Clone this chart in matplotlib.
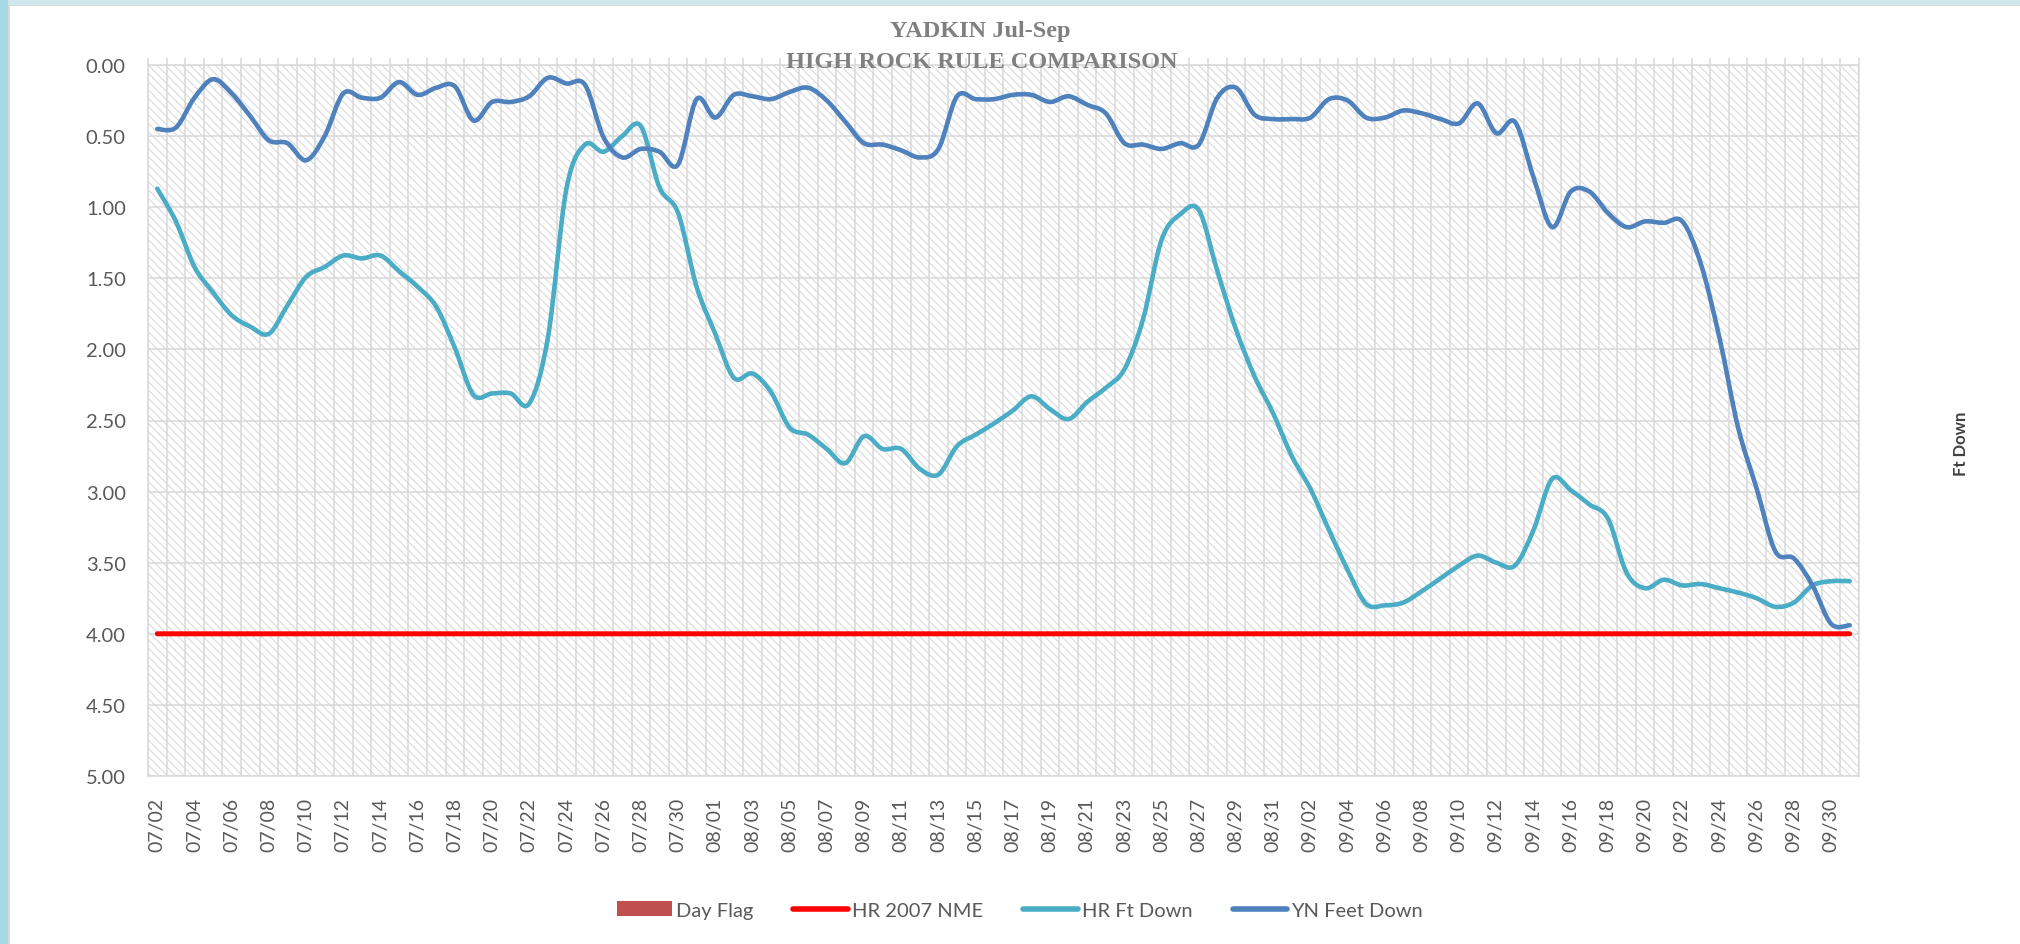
import numpy as np
import pandas as pd
import matplotlib
matplotlib.use("Agg")
from matplotlib import pyplot as plt
from matplotlib.path import Path
from matplotlib.patches import PathPatch, Rectangle, Patch
from matplotlib.lines import Line2D

plt.rcParams['font.family'] = ['Lato', 'DejaVu Sans']
plt.rcParams['hatch.linewidth'] = 0.7

# categories: one per day, 07/02 .. 10/01
days = pd.date_range("2021-07-02", "2021-10-01").strftime("%m/%d").tolist()

yn_feet_down = [0.45, 0.44, 0.23, 0.10, 0.20, 0.36, 0.53, 0.55, 0.67, 0.50,
                0.20, 0.23, 0.23, 0.12, 0.21, 0.16, 0.15, 0.39, 0.26, 0.26,
                0.22, 0.09, 0.13, 0.14, 0.51, 0.65, 0.59, 0.61, 0.70, 0.24,
                0.37, 0.21, 0.22, 0.24, 0.19, 0.16, 0.25, 0.40, 0.55, 0.56,
                0.60, 0.65, 0.59, 0.22, 0.24, 0.24, 0.21, 0.21, 0.26, 0.22,
                0.28, 0.34, 0.55, 0.56, 0.59, 0.55, 0.56, 0.23, 0.16, 0.35,
                0.38, 0.38, 0.37, 0.24, 0.25, 0.37, 0.37, 0.32, 0.34, 0.38,
                0.41, 0.27, 0.48, 0.40, 0.79, 1.14, 0.89, 0.89, 1.04, 1.14,
                1.10, 1.11, 1.10, 1.40, 1.92, 2.55, 2.98, 3.42, 3.47, 3.66,
                3.93, 3.94]

hr_ft_down = [0.87, 1.10, 1.42, 1.60, 1.76, 1.84, 1.89, 1.69, 1.49, 1.42,
              1.34, 1.36, 1.34, 1.45, 1.56, 1.70, 1.99, 2.32, 2.31, 2.31,
              2.38, 1.92, 0.87, 0.56, 0.61, 0.50, 0.43, 0.86, 1.04, 1.56,
              1.89, 2.20, 2.17, 2.30, 2.55, 2.60, 2.70, 2.80, 2.61, 2.70,
              2.70, 2.84, 2.88, 2.68, 2.60, 2.52, 2.43, 2.33, 2.42, 2.49,
              2.37, 2.27, 2.14, 1.79, 1.23, 1.05, 1.02, 1.45, 1.86, 2.19,
              2.45, 2.75, 2.98, 3.27, 3.55, 3.79, 3.80, 3.78, 3.70, 3.61,
              3.52, 3.45, 3.50, 3.52, 3.27, 2.91, 2.99, 3.09, 3.19, 3.57,
              3.68, 3.62, 3.66, 3.65, 3.68, 3.71, 3.75, 3.81, 3.78, 3.66,
              3.63, 3.63]

hr_2007_nme = [4.0] * len(days)
day_flag = [0.0] * len(days)

grey = '#d9d9d9'
txt = '#595959'


def smooth_path(xs, ys):
    # excel-like smoothed line (catmull-rom as cubic bezier)
    n = len(xs)
    verts = [(xs[0], ys[0])]
    codes = [Path.MOVETO]
    for i in range(n - 1):
        a = max(i - 1, 0)
        d = min(i + 2, n - 1)
        c1 = (xs[i] + (xs[i + 1] - xs[a]) / 6, ys[i] + (ys[i + 1] - ys[a]) / 6)
        c2 = (xs[i + 1] - (xs[d] - xs[i]) / 6, ys[i + 1] - (ys[d] - ys[i]) / 6)
        verts += [c1, c2, (xs[i + 1], ys[i + 1])]
        codes += [Path.CURVE4] * 3
    return Path(verts, codes)


fig = plt.figure(figsize=(20.2, 9.45), dpi=100)

# slide border bits
fig.add_artist(Rectangle((0, 1 - 6 / 945), 1, 6 / 945, transform=fig.transFigure,
                         facecolor='#cfe6ec', edgecolor='none', zorder=0))
fig.add_artist(Rectangle((0, 1 - 7 / 945), 1, 1.5 / 945, transform=fig.transFigure,
                         facecolor=grey, edgecolor='none', zorder=0))
fig.add_artist(Rectangle((0, 0), 8 / 2020, 1, transform=fig.transFigure,
                         facecolor='#a6d9e6', edgecolor='none', zorder=0))
fig.add_artist(Rectangle((8 / 2020, 0), 1.5 / 2020, 1 - 6 / 945, transform=fig.transFigure,
                         facecolor=grey, edgecolor='none', zorder=0))

ax = fig.add_axes([148 / 2020, 168 / 945, 1711 / 2020, 711 / 945])
ax.add_patch(Rectangle((0, 0), 1, 1, transform=ax.transAxes, facecolor='white',
                       edgecolor='#d6d6d6', lw=0, hatch='\\\\\\\\', zorder=0))

x = np.arange(len(days))

bars = ax.bar(x, day_flag, width=0.6, color='#C0504D')

ax.add_patch(PathPatch(smooth_path(x, hr_2007_nme), fill=False, edgecolor='#FF0000',
                       lw=3.6, capstyle='round', joinstyle='round', zorder=3))
ax.add_patch(PathPatch(smooth_path(x, hr_ft_down), fill=False, edgecolor='#4BACC6',
                       lw=3.3, capstyle='round', joinstyle='round', zorder=4))
ax.add_patch(PathPatch(smooth_path(x, yn_feet_down), fill=False, edgecolor='#4F81BD',
                       lw=3.3, capstyle='round', joinstyle='round', zorder=5))

ax.set_xlim(-0.5, len(days) - 0.5)
ax.set_ylim(5, 0)

ax.set_xticks(x[::2])
ax.set_xticklabels(days[::2])
ax.set_xticks(np.arange(-0.5, len(days), 1), minor=True)
ax.set_yticks(np.arange(0, 5.01, 0.5))
ax.set_yticklabels([f"{v:.2f}" for v in np.arange(0, 5.01, 0.5)])

ax.set_axisbelow(True)
ax.grid(which='minor', axis='x', color=grey, lw=1.1)
ax.grid(which='major', axis='y', color=grey, lw=1.1)
ax.grid(which='major', axis='x', visible=False)

ax.tick_params(axis='x', which='major', length=0, pad=15, labelsize=14,
               labelcolor=txt, labelrotation=90)
ax.tick_params(axis='x', which='minor', bottom=False, top=True, direction='out',
               length=5, width=1.1, color=grey)
ax.tick_params(axis='y', length=0, pad=16, labelsize=14.5, labelcolor=txt)
for s in ax.spines.values():
    s.set_color(grey)
    s.set_linewidth(1.1)

fig.text(980 / 2020, 1 - 31 / 945, "YADKIN Jul-Sep", ha='center', va='center',
         family='Liberation Serif', weight='bold', size=17.5, color='#808080')
fig.text(982 / 2020, 1 - 62 / 945, "HIGH ROCK RULE COMPARISON", ha='center', va='center',
         family='Liberation Serif', weight='bold', size=17.5, color='#808080')

fig.text(1961 / 2020, 1 - 444 / 945, "Ft Down", rotation=90, ha='center', va='center',
         weight='bold', size=12, color='#404040')

handles = [Patch(facecolor='#C0504D'),
           Line2D([], [], color='#FF0000', lw=4, solid_capstyle='round'),
           Line2D([], [], color='#4BACC6', lw=4, solid_capstyle='round'),
           Line2D([], [], color='#4F81BD', lw=4, solid_capstyle='round')]
labels = ['Day Flag', 'HR 2007 NME', 'HR Ft Down', 'YN Feet Down']
leg = fig.legend(handles, labels, loc='center', bbox_to_anchor=(1020 / 2020, 1 - 911 / 945),
                 ncol=4, frameon=False, fontsize=14.5, handlelength=2.7,
                 handletextpad=0.2, columnspacing=2.0)
for t in leg.get_texts():
    t.set_color(txt)

fig.savefig("out.png", dpi=100, facecolor='white')
